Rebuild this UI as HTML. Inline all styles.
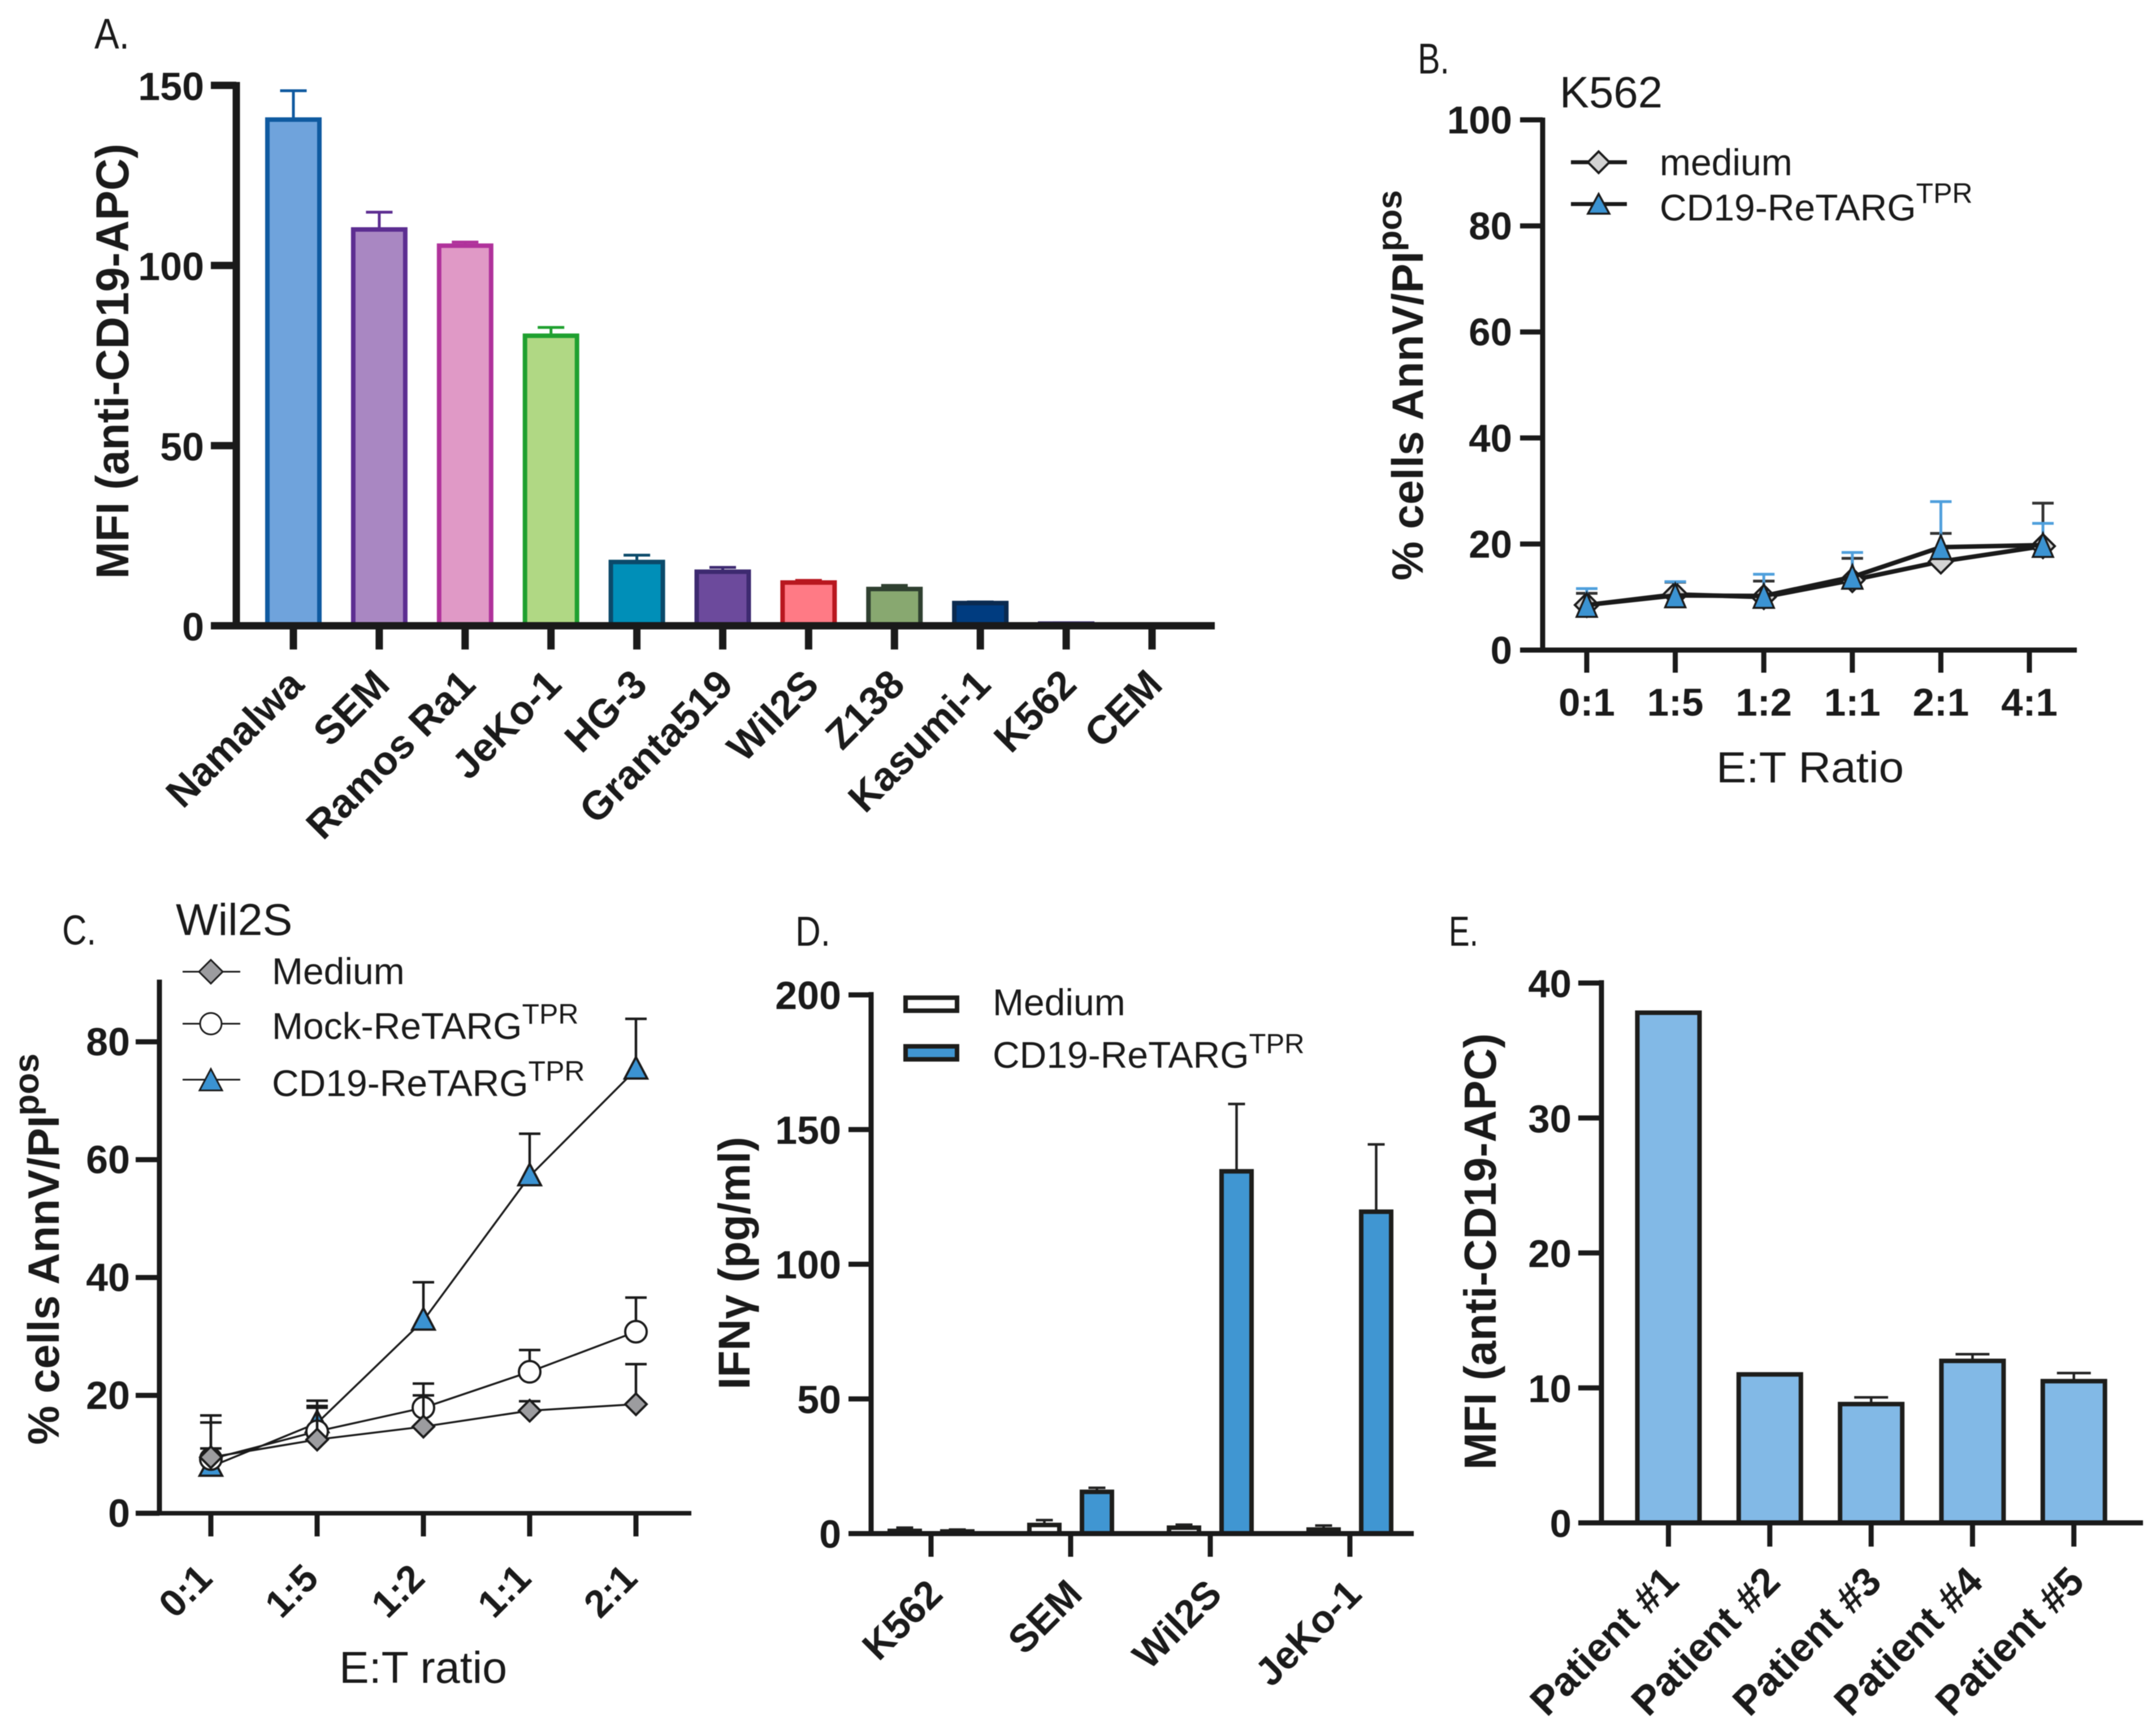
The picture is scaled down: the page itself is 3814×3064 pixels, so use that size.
<!DOCTYPE html>
<html lang="en">
<head>
<meta charset="utf-8">
<title>CD19-ReTARG figure</title>
<style>
html,body{margin:0;padding:0;background:#fff;}
svg{display:block;filter:blur(0.8px);}
text{font-family:"Liberation Sans",sans-serif;fill:#1a1a1a;}
.b{font-weight:bold;}
</style>
</head>
<body>
<svg id="figure" xmlns="http://www.w3.org/2000/svg" width="3814" height="3064" viewBox="0 0 3814 3064">
<rect width="3814" height="3064" fill="#fff"/>

<g id="panel-a">
  <text x="167" y="86" font-size="76" textLength="62" lengthAdjust="spacingAndGlyphs">A.</text>
  <text class="b" transform="translate(227,1024) rotate(-90)" font-size="82" textLength="770" lengthAdjust="spacingAndGlyphs">MFI (anti-CD19-APC)</text>
</g>

<g id="panel-b">
  <text x="2508" y="130" font-size="76" textLength="56" lengthAdjust="spacingAndGlyphs">B.</text>
  <text x="2759" y="190" font-size="78">K562</text>
  <text class="b" transform="translate(2517,1027) rotate(-90)" font-size="78">% cells AnnV/PI<tspan font-size="61" dy="-38">pos</tspan></text>
  <text x="3036" y="1384" font-size="77" textLength="332" lengthAdjust="spacingAndGlyphs">E:T Ratio</text>
  <g>
    <line x1="2779" y1="287" x2="2878" y2="287" stroke="#1a1a1a" stroke-width="7"/>
    <polygon points="2828,268 2847,287 2828,306 2809,287" fill="#d3d3d3" stroke="#1a1a1a" stroke-width="4"/>
    <text x="2936" y="310" font-size="66">medium</text>
    <line x1="2779" y1="361" x2="2878" y2="361" stroke="#1a1a1a" stroke-width="7"/>
    <polygon points="2828,343 2847,378 2809,378" fill="#3b93d2" stroke="#1a1a1a" stroke-width="3.5"/>
    <text x="2936" y="390" font-size="66">CD19-ReTARG<tspan font-size="50" dy="-31">TPR</tspan></text>
  </g>
</g>

<g id="panel-c">
  <text x="110" y="1671" font-size="74" textLength="60" lengthAdjust="spacingAndGlyphs">C.</text>
  <text x="311" y="1654" font-size="79">Wil2S</text>
  <text class="b" transform="translate(104,2556) rotate(-90)" font-size="78">% cells AnnV/PI<tspan font-size="62" dy="-36">pos</tspan></text>
  <text x="600" y="2977" font-size="79">E:T ratio</text>
  <g>
    <line x1="323" y1="1719" x2="425" y2="1719" stroke="#1a1a1a" stroke-width="3"/>
    <polygon points="373,1698 394,1719 373,1740 352,1719" fill="#9c9c9f" stroke="#1a1a1a" stroke-width="3"/>
    <text x="481" y="1741" font-size="66">Medium</text>
    <line x1="323" y1="1811" x2="425" y2="1811" stroke="#1a1a1a" stroke-width="3"/>
    <circle cx="373" cy="1811" r="19" fill="#fff" stroke="#1a1a1a" stroke-width="3"/>
    <text x="481" y="1838" font-size="66">Mock-ReTARG<tspan font-size="50" dy="-27">TPR</tspan></text>
    <line x1="323" y1="1910" x2="425" y2="1910" stroke="#1a1a1a" stroke-width="3"/>
    <polygon points="373,1891 393,1929 353,1929" fill="#3b93d2" stroke="#1a1a1a" stroke-width="3"/>
    <text x="481" y="1939" font-size="66">CD19-ReTARG<tspan font-size="50" dy="-27">TPR</tspan></text>
  </g>
</g>

<g id="panel-d">
  <text x="1407" y="1673" font-size="74" textLength="62" lengthAdjust="spacingAndGlyphs">D.</text>
  <text class="b" transform="translate(1326,2458) rotate(-90)" font-size="79" textLength="447" lengthAdjust="spacingAndGlyphs">IFNγ (pg/ml)</text>
  <g>
    <rect x="1602" y="1765" width="91" height="23" fill="#fff" stroke="#1d1d1b" stroke-width="8"/>
    <text x="1756" y="1796" font-size="66">Medium</text>
    <rect x="1602" y="1851" width="91" height="23" fill="#4096d2" stroke="#1d1d1b" stroke-width="8"/>
    <text x="1756" y="1889" font-size="66">CD19-ReTARG<tspan font-size="49" dy="-26">TPR</tspan></text>
  </g>
</g>

<g id="panel-e">
  <text x="2563" y="1673" font-size="74" textLength="52" lengthAdjust="spacingAndGlyphs">E.</text>
  <text class="b" transform="translate(2646,2600) rotate(-90)" font-size="80" textLength="772" lengthAdjust="spacingAndGlyphs">MFI (anti-CD19-APC)</text>
</g>
</svg>

<script>
// Panel A data
const aCategories = ["Namalwa","SEM","Ramos Ra1","JeKo-1","HG-3","Granta519","Wil2S","Z138","Kasumi-1","K562","CEM"];
const aValues = [140.5,110,105.5,80.5,17.7,15,12,10.2,6.3,0.6,0];
const aErrorTops = [148.5,114.8,106.5,82.8,19.6,16.2,12.6,11.2,6.6,0.8,0];
const aTicks = [0,50,100,150];
const aFills = ["#6fa3dc","#a987c2","#e099c6","#b0d884","#008fb8","#6c4a9c","#ff7a85","#88a870","#003c80","#3a2a70","#222222"];
const aStrokes = ["#0f5aa0","#5c2d91","#b0329b","#1fa02f","#0b4a6a","#3d2a70","#b8171f","#2f4030","#0a2a50","#3a2a70","#222222"];

// Panel B data
const bCategories = ["0:1","1:5","1:2","1:1","2:1","4:1"];
const bMedium = [8.5,10.5,10,13.2,16.7,19.6];
const bMediumErr = [10.7,12.8,13,17.3,22,27.7];
const bCd19 = [8.5,10.3,10.2,13.8,19.4,19.8];
const bCd19Err = [11.6,12.9,14.3,18.4,28,23.9];
const bTicks = [0,20,40,60,80,100];

// Panel C data
const cCategories = ["0:1","1:5","1:2","1:1","2:1"];
const cMedium = [9.5,12.5,14.7,17.4,18.5];
const cMediumErr = [15.4,17.9,20,19,25.3];
const cMock = [9.2,13.9,17.9,24,30.8];
const cMockErr = [16.6,19.1,22,27.7,36.6];
const cCd19 = [7.9,15.3,32.7,57.2,75.3];
const cCd19Err = [11,18.2,39.2,64.4,83.9];
const cTicks = [0,20,40,60,80];

// Panel D data
const dCategories = ["K562","SEM","Wil2S","JeKo-1"];
const dMedium = [1,3.2,2.2,1.5];
const dMediumErr = [2.2,5,3.3,3];
const dCd19 = [0.8,15.5,134.5,119.5];
const dCd19Err = [1.5,17,159.5,144.5];
const dTicks = [0,50,100,150,200];

// Panel E data
const eCategories = ["Patient #1","Patient #2","Patient #3","Patient #4","Patient #5"];
const eValues = [37.8,11,8.8,12,10.5];
const eErrorTops = [37.8,11,9.3,12.5,11.1];
const eTicks = [0,10,20,30,40];

const NS = "http://www.w3.org/2000/svg";
const INK = "#1a1a1a";

function linear(d0, d1, r0, r1) {
  return function (v) { return r0 + (v - d0) * (r1 - r0) / (d1 - d0); };
}
function band(x0, step) {
  return function (i) { return x0 + i * step; };
}
function shape(tag, parent, attrs) {
  const el = document.createElementNS(NS, tag);
  for (const k in attrs) el.setAttribute(k, attrs[k]);
  parent.appendChild(el);
  return el;
}
function addLine(parent, name, x1, y1, x2, y2, color, width) {
  const el = shape("line", parent, {x1: x1, y1: y1, x2: x2, y2: y2, stroke: color, "stroke-width": width});
  
  
  return el;
}
function addRect(parent, name, cx, top, bottom, w, fill, stroke, sw) {
  const el = shape("rect", parent, {x: cx - w / 2, y: top, width: w, height: Math.max(0, bottom - top), fill: fill, stroke: stroke, "stroke-width": sw});
  
  
  return el;
}
function addText(parent, name, str, attrs) {
  const el = shape("text", parent, attrs);
  el.textContent = str;
  
  
  return el;
}
function drawYAxis(parent, ticks, y, o) {
  ticks.forEach(function (t) {
    addLine(parent, "y-tick-" + o.id + "-" + t, o.tickLeft, y(t), o.axisX, y(t), INK, o.yw);
    addText(parent, "y-tick-label-" + o.id + "-" + t, String(t), {x: o.labelRight, y: y(t) + o.labelDy, "font-size": o.fs, "font-weight": "bold", "text-anchor": "end"});
  });
  addLine(parent, "y-axis-" + o.id, o.axisX, o.top, o.axisX, o.y0 + o.xw / 2, INK, o.yw);
  addLine(parent, "x-axis-" + o.id, o.tickLeft, o.y0, o.right, o.y0, INK, o.xw);
}
function drawXTicks(parent, cats, x, o) {
  cats.forEach(function (c, i) {
    addLine(parent, "x-tick-" + o.id + "-" + c, x(i), o.y0, x(i), o.tickBottom, INK, o.yw);
  });
}
function drawRotLabels(parent, cats, x, o) {
  cats.forEach(function (c, i) {
    addText(parent, "x-tick-label-" + o.id + "-" + c, c, {transform: "translate(" + (x(i) + o.dx) + "," + o.by + ") rotate(-45)", "font-size": o.fs, "font-weight": "bold", "text-anchor": "end"});
  });
}
function drawErr(parent, name, x, yv, yt, cap, color, w) {
  addLine(parent, name + "-stem", x, yv, x, yt, color, w);
  addLine(parent, name + "-cap", x - cap / 2, yt, x + cap / 2, yt, color, w);
}
function polyline(parent, name, pts, color, w) {
  const el = shape("polyline", parent, {points: pts.map(function (p) { return p[0].toFixed(1) + "," + p[1].toFixed(1); }).join(" "), fill: "none", stroke: color, "stroke-width": w, "stroke-linejoin": "round"});
  
  
  return el;
}
function triangle(parent, name, cx, cy, half, up, down, fill, sw) {
  const pts = [[cx, cy - up], [cx + half, cy + down], [cx - half, cy + down]].map(function (p) { return p.join(","); }).join(" ");
  const el = shape("polygon", parent, {points: pts, fill: fill, stroke: INK, "stroke-width": sw});
  
  
  return el;
}
function diamond(parent, name, cx, cy, r, fill, sw) {
  const pts = [[cx, cy - r], [cx + r, cy], [cx, cy + r], [cx - r, cy]].map(function (p) { return p.join(","); }).join(" ");
  const el = shape("polygon", parent, {points: pts, fill: fill, stroke: INK, "stroke-width": sw});
  
  
  return el;
}
function circle(parent, name, cx, cy, r, fill, sw) {
  const el = shape("circle", parent, {cx: cx, cy: cy, r: r, fill: fill, stroke: INK, "stroke-width": sw});
  
  
  return el;
}

/* Panel A */
(function () {
  const g = document.getElementById("panel-a");
  const y = linear(0, 150, 1107, 151);
  const x = band(519, 151.9);
  aCategories.forEach(function (c, i) {
    if (aErrorTops[i] > aValues[i]) drawErr(g, "error-bar-" + c, x(i), y(aValues[i]), y(aErrorTops[i]), 47, aStrokes[i], 5);
    if (aValues[i] > 0) addRect(g, "bar-" + c, x(i), y(aValues[i]), y(0), 92, aFills[i], aStrokes[i], 8);
  });
  const o = {id: "a", tickLeft: 373, axisX: 418, labelRight: 361, labelDy: 26, fs: 70, yw: 13, xw: 13, top: 145, y0: 1107, right: 2149, tickBottom: 1149};
  drawYAxis(g, aTicks, y, o);
  drawXTicks(g, aCategories, x, o);
  drawRotLabels(g, aCategories, x, {id: "a", dx: 22, by: 1215, fs: 71});
})();

/* Panel B */
(function () {
  const g = document.getElementById("panel-b");
  const y = linear(0, 100, 1150, 212);
  const tick = band(2807, 156.6);
  const lastShift = 24;
  const x = function (i) { return tick(i) + (i === bCategories.length - 1 ? lastShift : 0); };
  const o = {id: "b", tickLeft: 2689, axisX: 2729, labelRight: 2675, labelDy: 24, fs: 69, yw: 9, xw: 9, top: 208, y0: 1150, right: 3674, tickBottom: 1190};
  drawYAxis(g, bTicks, y, o);
  drawXTicks(g, bCategories, tick, o);
  bCategories.forEach(function (c, i) {
    addText(g, "x-tick-label-b-" + c, c, {x: tick(i), y: 1266, "font-size": 69, "font-weight": "bold", "text-anchor": "middle"});
  });
  bCategories.forEach(function (c, i) {
    drawErr(g, "error-medium-" + c, x(i), y(bMedium[i]), y(bMediumErr[i]), 38, "#333333", 5);
  });
  polyline(g, "line-medium", bMedium.map(function (v, i) { return [x(i), y(v)]; }), INK, 8);
  bCategories.forEach(function (c, i) {
    diamond(g, "point-medium-" + c, x(i), y(bMedium[i]), 21, "#d3d3d3", 4);
  });
  polyline(g, "line-cd19", bCd19.map(function (v, i) { return [x(i), y(v)]; }), INK, 8);
  bCategories.forEach(function (c, i) {
    drawErr(g, "error-cd19-" + c, x(i), y(bCd19[i]), y(bCd19Err[i]), 38, "#4f9fdc", 5);
  });
  bCategories.forEach(function (c, i) {
    triangle(g, "point-cd19-" + c, x(i), y(bCd19[i]), 18, 21, 21, "#3b93d2", 3.5);
  });
})();

/* Panel C */
(function () {
  const g = document.getElementById("panel-c");
  const y = linear(0, 80, 2677, 1843);
  const x = band(373, 188);
  const o = {id: "c", tickLeft: 240, axisX: 282, labelRight: 230, labelDy: 24, fs: 70, yw: 9, xw: 8, top: 1733, y0: 2677, right: 1223, tickBottom: 2718};
  drawYAxis(g, cTicks, y, o);
  drawXTicks(g, cCategories, x, o);
  drawRotLabels(g, cCategories, x, {id: "c", dx: 6, by: 2796, fs: 68});
  cCategories.forEach(function (c, i) {
    drawErr(g, "error-cd19-c-" + c, x(i), y(cCd19[i]), y(cCd19Err[i]), 38, INK, 4.5);
  });
  polyline(g, "line-cd19-c", cCd19.map(function (v, i) { return [x(i), y(v)]; }), INK, 3.5);
  cCategories.forEach(function (c, i) {
    triangle(g, "point-cd19-c-" + c, x(i), y(cCd19[i]), 20, 22, 16, "#3b93d2", 4);
  });
  cCategories.forEach(function (c, i) {
    drawErr(g, "error-mock-" + c, x(i), y(cMock[i]), y(cMockErr[i]), 38, INK, 4.5);
  });
  polyline(g, "line-mock", cMock.map(function (v, i) { return [x(i), y(v)]; }), INK, 3.5);
  cCategories.forEach(function (c, i) {
    circle(g, "point-mock-" + c, x(i), y(cMock[i]), 19, "#ffffff", 4);
  });
  cCategories.forEach(function (c, i) {
    drawErr(g, "error-medium-c-" + c, x(i), y(cMedium[i]), y(cMediumErr[i]), 38, INK, 4.5);
  });
  polyline(g, "line-medium-c", cMedium.map(function (v, i) { return [x(i), y(v)]; }), INK, 3.5);
  cCategories.forEach(function (c, i) {
    diamond(g, "point-medium-c-" + c, x(i), y(cMedium[i]), 19, "#9c9c9f", 4);
  });
})();

/* Panel D */
(function () {
  const g = document.getElementById("panel-d");
  const y = linear(0, 200, 2713, 1760);
  const x = band(1647, 247);
  const offset = 46.5;
  dCategories.forEach(function (c, i) {
    drawErr(g, "error-medium-d-" + c, x(i) - offset, y(dMedium[i]), y(dMediumErr[i]), 30, "#222222", 4.5);
    addRect(g, "bar-medium-" + c, x(i) - offset, y(dMedium[i]), y(0), 53, "#ffffff", "#1d1d1b", 8);
    drawErr(g, "error-cd19-d-" + c, x(i) + offset, y(dCd19[i]), y(dCd19Err[i]), 30, "#222222", 4.5);
    addRect(g, "bar-cd19-" + c, x(i) + offset, y(dCd19[i]), y(0), 53, "#4096d2", "#1d1d1b", 8);
  });
  const o = {id: "d", tickLeft: 1501, axisX: 1541, labelRight: 1488, labelDy: 25, fs: 70, yw: 9, xw: 9, top: 1755, y0: 2713, right: 2501, tickBottom: 2754};
  drawYAxis(g, dTicks, y, o);
  drawXTicks(g, dCategories, x, o);
  drawRotLabels(g, dCategories, x, {id: "d", dx: 24, by: 2824, fs: 69});
})();

/* Panel E */
(function () {
  const g = document.getElementById("panel-e");
  const y = linear(0, 40, 2694, 1739);
  const x = band(2951.5, 179.3);
  eCategories.forEach(function (c, i) {
    if (eErrorTops[i] > eValues[i]) drawErr(g, "error-bar-" + c, x(i), y(eValues[i]), y(eErrorTops[i]), 60, "#222222", 4.5);
    addRect(g, "bar-" + c, x(i), y(eValues[i]), y(0), 110, "#82b9e6", "#1d1d1b", 8);
  });
  const o = {id: "e", tickLeft: 2792, axisX: 2833, labelRight: 2780, labelDy: 25, fs: 69, yw: 9, xw: 9, top: 1734, y0: 2694, right: 3791, tickBottom: 2736};
  drawYAxis(g, eTicks, y, o);
  drawXTicks(g, eCategories, x, o);
  drawRotLabels(g, eCategories, x, {id: "e", dx: 22, by: 2802, fs: 71});
})();
</script>
</body>
</html>
